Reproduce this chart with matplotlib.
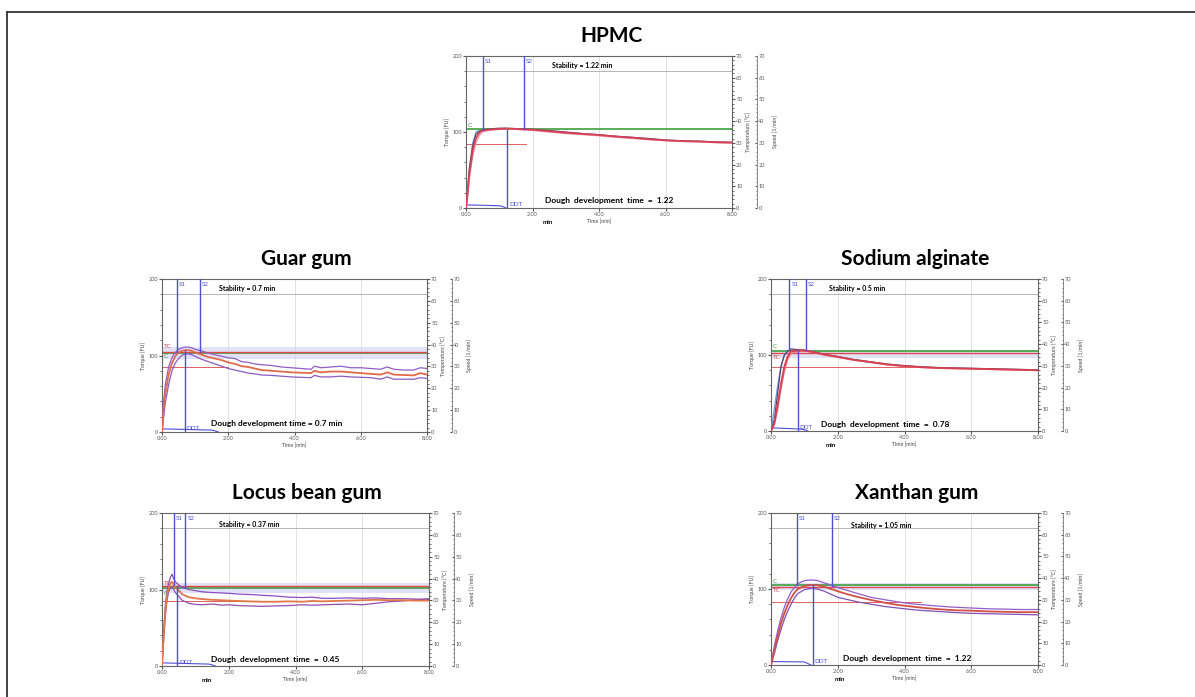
import numpy as np
import matplotlib.pyplot as plt
from matplotlib.lines import Line2D
from matplotlib.ticker import MultipleLocator

W, H = 1195, 697
plt.rcParams['font.family'] = ['Lato', 'DejaVu Sans']

# ---- HPMC ----
hpmc_t = [0, 0.05, 0.1, 0.2, 0.3, 0.4, 0.5, 0.7, 1.0, 1.2, 1.5, 2.0, 2.5, 3.0, 3.5, 4.0, 4.5, 5.0, 5.5, 6.0, 6.5, 7.0, 7.5, 8.0]
hpmc_up = [0, 25, 52, 82, 97, 101, 103, 104, 105, 105, 104.5, 103.5, 102, 100, 98, 96.5, 94.5, 93, 91.5, 89.5, 88.5, 88, 87, 86.5]
hpmc_mid = [0, 20, 45, 75, 92, 99, 102, 103, 104, 104.5, 104, 103, 101, 99, 97.5, 96, 94, 92.5, 90.5, 89, 88, 87.5, 86.5, 86]
hpmc_lo = [0, 15, 38, 68, 86, 95, 100, 102.5, 103.5, 104, 103.5, 102, 100, 98, 96.5, 95, 93, 91.5, 90, 88.5, 87.5, 87, 86, 85.5]
hpmc_rise_t = [0, 0.1, 0.2, 0.3, 0.4]
hpmc_rise = [0, 50, 85, 100, 102]

# ---- Guar gum ----
guar_t = [0, 0.05, 0.1, 0.2, 0.3, 0.4, 0.5, 0.6, 0.7, 0.8, 0.9, 1.0, 1.2, 1.4, 1.6, 1.8, 2.0, 2.2, 2.4, 2.6,
          2.8, 3.0, 3.3, 3.6, 3.9, 4.2, 4.5, 4.6, 4.8, 5.1, 5.4, 5.7, 6.0, 6.3, 6.6, 6.8, 7.0, 7.3, 7.6, 7.8, 8.0]
guar_up = [0, 40, 62, 85, 97, 104, 108, 110, 111, 111, 110, 108, 106, 103, 101, 99, 97, 96, 92, 91,
           89, 88, 87, 85, 84, 83, 82, 86, 84, 85, 86, 84, 84, 83, 82, 85, 82, 81, 81, 84, 83]
guar_mid = [0, 30, 50, 75, 90, 99, 104, 106, 107, 107, 106, 104, 101, 98, 96, 94, 91, 89, 86, 85,
            83, 81, 80, 79, 78, 77.5, 77, 80, 78, 79, 79, 78, 77, 76, 75, 78, 75, 74.5, 74, 77, 75]
guar_lo = [0, 20, 38, 62, 80, 90, 96, 100, 102, 102, 101, 99, 95, 92, 89, 86, 83, 81, 79, 77,
           76, 74.5, 74, 73, 72, 71.5, 71, 74, 72, 72, 73, 72, 71.5, 71, 69, 72, 69, 69, 69, 71, 70]

# ---- Sodium alginate ----
sod_t = [0, 0.1, 0.2, 0.3, 0.4, 0.5, 0.6, 0.8, 1.0, 1.3, 1.6, 2.0, 2.5, 3.0, 3.5, 4.0, 4.5, 5.0, 5.5, 6.0, 6.5, 7.0, 7.5, 8.0]
sod_up = [0, 15, 50, 85, 100, 105, 108, 107, 106.5, 104, 101, 98, 94, 91, 88, 86, 84.5, 83.5, 83, 82.5, 82, 81.5, 81, 80.5]
sod_mid = [0, 10, 35, 62, 85, 98, 105, 106, 106, 103.5, 100.5, 97.5, 93.5, 90.5, 87.5, 85.5, 84, 83, 82.5, 82, 81.5, 81, 80.5, 80]
sod_lo = [0, 8, 28, 55, 78, 94, 102, 104.5, 105, 103, 100, 97, 93, 90, 87, 85, 83.5, 82.5, 82, 81.5, 81, 80.5, 80, 79.5]
sod_rise_t = [0, 0.2, 0.3, 0.4, 0.5]
sod_rise = [0, 60, 85, 100, 105]

# ---- Locus bean gum ----
lbg_t = [0, 0.05, 0.1, 0.15, 0.2, 0.25, 0.3, 0.35, 0.4, 0.5, 0.6, 0.8, 1.0, 1.2, 1.5, 1.8, 2.0, 2.3, 2.6, 3.0,
         3.4, 3.8, 4.2, 4.5, 4.8, 5.2, 5.6, 6.0, 6.4, 6.8, 7.2, 7.6, 8.0]
lbg_up = [0, 45, 80, 98, 108, 116, 120, 114, 110, 106, 103, 100, 98.5, 97, 96, 95.5, 95, 94, 93.5, 92.5,
          91.5, 90, 89.5, 90, 88.5, 88.5, 89, 88.5, 89, 88, 88, 87.5, 87]
lbg_mid = [0, 40, 72, 92, 102, 108, 110, 106, 103, 99, 94, 90, 88.5, 87.5, 86.5, 86, 85.5, 85, 84.5, 84,
           84, 84.5, 84, 85, 84.5, 85, 85.5, 86, 86.5, 86, 86, 85.5, 85.5]
lbg_lo = [0, 35, 65, 86, 97, 102, 104, 100, 96, 91, 86, 82, 80.5, 80, 81, 79.5, 80, 79, 78.5, 78,
          78.5, 79, 80, 79.5, 80, 80.5, 81, 80, 82, 84, 85, 86.5, 88]

# ---- Xanthan gum ----
xan_t = [0, 0.1, 0.2, 0.3, 0.4, 0.5, 0.6, 0.7, 0.8, 1.0, 1.2, 1.4, 1.6, 1.8, 2.0, 2.3, 2.6, 3.0, 3.4, 3.8,
         4.2, 4.6, 5.0, 5.5, 6.0, 6.5, 7.0, 7.5, 8.0]
xan_up = [0, 25, 45, 62, 76, 87, 96, 102, 107, 111, 112, 111, 108, 105, 102, 98, 94, 89, 86, 83,
          80.5, 79, 77.5, 76, 75, 74, 73.5, 73, 73]
xan_mid = [0, 20, 38, 55, 68, 79, 88, 95, 100, 104, 105.5, 105, 103, 100, 97, 93, 89.5, 85.5, 82, 79,
           77, 75, 73.5, 72, 71.5, 70.5, 70, 69.5, 69.5]
xan_lo = [0, 15, 32, 47, 60, 71, 80, 88, 94, 99, 101, 100, 97, 93, 89, 86, 83, 80, 77, 75,
          73, 71.5, 70.5, 69, 68, 67.5, 67, 66.5, 66]

# markers: S1, S2, DDT (min)
hpmc_marks = [0.52, 1.74, 1.24]
guar_marks = [0.44, 1.15, 0.69]
sod_marks = [0.55, 1.05, 0.80]
lbg_marks = [0.35, 0.70, 0.45]
xan_marks = [0.77, 1.82, 1.25]

# speed trace near the bottom
hpmc_spd_t, hpmc_spd = [0, 0.1, 1.0, 1.1, 1.2], [4, 4, 3, 2, 0]
guar_spd_t, guar_spd = [0, 0.1, 1.5, 1.6, 1.7], [4, 4, 2.5, 1.5, 0]
sod_spd_t, sod_spd = [0, 0.1, 0.9, 1.0, 1.1], [4, 4, 2.5, 1.5, 0]
lbg_spd_t, lbg_spd = [0, 0.1, 1.4, 1.5, 1.6], [4, 4, 2.5, 1.5, 0]
xan_spd_t, xan_spd = [0, 0.1, 1.0, 1.1, 1.2], [4.5, 4.5, 4, 2, 0]

fig = plt.figure(figsize=(W / 100, H / 100), dpi=100)

# outer frame (left and top)
fig.add_artist(Line2D([7 / W, 7 / W], [0, 1 - 12 / H], color='#333333', lw=1.3))
fig.add_artist(Line2D([7 / W, 1], [1 - 12 / H, 1 - 12 / H], color='#333333', lw=1.3))

BLUE = '#4f4fd6'
GREEN = '#3da03d'
RED = '#dd4a4a'
TICK = '#555555'


def panel(box, title, title_dx, t, up, mid, lo, cols, marks, c_lvl, c_lab, tc_lvl, tc_lab,
          band, red_ln, spd_t, spd, stab, stab_xy, ddt_txt, ddt_xy, min_x, s_ends):
    l, r, top, bot = box
    ax = fig.add_axes([l / W, 1 - bot / H, (r - l) / W, (bot - top) / H])
    ax.set_xlim(0, 8)
    ax.set_ylim(0, 200)
    for x in (2, 4, 6):
        ax.axvline(x, color='#e2e2e2', lw=0.7, zorder=0)
    ax.axhline(180, color='#aaaaaa', lw=0.6, zorder=1)
    if band:
        ax.axhspan(band[0], band[1], color='#d7d7f5', alpha=0.7, lw=0, zorder=1)
    ax.axhline(c_lvl, color=GREEN, lw=1.2, zorder=2)
    ax.text(0.05, c_lab, 'C', color=GREEN, fontsize=4.5, va='center')
    if tc_lvl is not None:
        ax.axhline(tc_lvl, color=RED, lw=1.0, zorder=2)
        ax.text(0.05, tc_lab, 'TC', color=RED, fontsize=4.5, va='center')
    ax.plot(red_ln[:2], [red_ln[2], red_ln[2]], color='#e06060', lw=0.7, zorder=2)

    ax.plot(t, up, color=cols[0], lw=0.9, zorder=4)
    ax.plot(t, lo, color=cols[2], lw=0.9, zorder=4)
    ax.plot(t, mid, color=cols[1], lw=1.3, zorder=5)
    ax.plot(spd_t, spd, color=BLUE, lw=0.8, zorder=4)

    s1, s2, ddt = marks
    ax.plot([s1, s1], [s_ends[0], 200], color=BLUE, lw=1.0, zorder=6)
    ax.plot([s2, s2], [s_ends[1], 200], color=BLUE, lw=1.0, zorder=6)
    ax.plot([ddt, ddt], [0, s_ends[2]], color=BLUE, lw=1.0, zorder=6)
    ax.text(s1 + 0.06, 193, 'S1', color=BLUE, fontsize=4.5, va='center')
    ax.text(s2 + 0.06, 193, 'S2', color=BLUE, fontsize=4.5, va='center')
    ax.text(ddt + 0.06, 5, 'DDT', color=BLUE, fontsize=4.5, va='center')

    ax.text(stab_xy[0], stab_xy[1], stab, fontsize=5, fontweight='bold', va='center')
    ax.text(ddt_xy[0], ddt_xy[1], ddt_txt, fontsize=6, fontweight='bold', va='center')

    ax.set_xticks([0, 2, 4, 6, 8])
    ax.set_xticklabels(['0.00', '2.00', '4.00', '6.00', '8.00'])
    ax.set_yticks([0, 100, 200])
    ax.yaxis.set_minor_locator(MultipleLocator(20))
    ax.tick_params(labelsize=4, colors=TICK, length=2, pad=1)
    ax.tick_params(which='minor', length=1.2, colors=TICK)
    ax.set_ylabel('Torque [FU]', fontsize=3.8, color='#444444', labelpad=2)
    ax.text(0.5, -0.092, 'Time [min]', transform=ax.transAxes, fontsize=3.8,
            color='#444444', ha='center', va='center')
    if min_x is not None:
        ax.text(min_x, -0.095, 'min', transform=ax.get_xaxis_transform(), fontsize=4.5,
                fontweight='bold', ha='center', va='center')
    for s in ax.spines.values():
        s.set_color('#666666')
        s.set_linewidth(0.8)

    # temperature axis
    tx = ax.twinx()
    tx.set_ylim(0, 70)
    tx.set_yticks(range(0, 71, 10))
    tx.yaxis.set_minor_locator(MultipleLocator(2))
    tx.tick_params(labelsize=4, colors=TICK, length=2, pad=1)
    tx.tick_params(which='minor', length=1.2, colors=TICK)
    tx.set_ylabel('Temperature [°C]', fontsize=3.8, color='#444444')
    tx.yaxis.set_label_coords(1.05, 0.5)
    for s in tx.spines.values():
        s.set_visible(False)

    # speed axis
    sx = ax.twinx()
    sx.set_ylim(0, 70)
    sx.set_yticks(range(0, 71, 10))
    sx.yaxis.set_minor_locator(MultipleLocator(2))
    for k in ('top', 'bottom', 'left'):
        sx.spines[k].set_visible(False)
    sx.spines['right'].set_position(('outward', 18))
    sx.spines['right'].set_color('#777777')
    sx.spines['right'].set_linewidth(0.6)
    sx.tick_params(labelsize=4, colors=TICK, length=1.5, pad=1, direction='in')
    sx.tick_params(which='minor', length=1, direction='in', colors=TICK)
    sx.set_ylabel('Speed [1/min]', fontsize=3.8, color='#444444')
    sx.yaxis.set_label_coords(1.15, 0.5)

    fig.text(((l + r) / 2 + title_dx) / W, 1 - (top - 20) / H, title, fontsize=15,
             fontweight='bold', ha='center', va='center')
    return ax


a = panel((466, 732, 56, 208), 'HPMC', 13, hpmc_t, hpmc_up, hpmc_mid, hpmc_lo,
          ('#6a4a5a', '#d8405a', '#f09aa8'), hpmc_marks, 104, 109, None, None,
          None, (0, 1.8, 84), hpmc_spd_t, hpmc_spd,
          'Stability = 1.22 min', (2.6, 187), 'Dough  development  time  =  1.22', (2.38, 10.5),
          2.47, (102, 104, 103))
a.plot(hpmc_rise_t, hpmc_rise, color='#6fa0e0', lw=0.9, zorder=3)

panel((162, 427, 279, 432), 'Guar gum', 12, guar_t, guar_up, guar_mid, guar_lo,
      ('#8e5fc8', '#e06a4a', '#8a5cc0'), guar_marks, 103.7, 98.5, 105, 111.5,
      (96, 111), (0, 2.0, 85), guar_spd_t, guar_spd,
      'Stability = 0.7 min', (1.73, 187), 'Dough development time = 0.7 min', (1.48, 10.5),
      None, (105, 105, 106))

a = panel((771, 1038, 279, 431), 'Sodium alginate', 11, sod_t, sod_up, sod_mid, sod_lo,
          ('#5a4070', '#d84050', '#e87888'), sod_marks, 105.7, 111, 102, 97,
          (95.6, 107), (0, 4.4, 84), sod_spd_t, sod_spd,
          'Stability = 0.5 min', (1.74, 187), 'Dough  development  time  =  0.78', (1.49, 9.2),
          1.8, (106, 106, 106))
a.plot(sod_rise_t, sod_rise, color='#6fa0e0', lw=0.9, zorder=3)

panel((162, 429, 513, 666), 'Locus bean gum', 11, lbg_t, lbg_up, lbg_mid, lbg_lo,
      ('#8a50c0', '#e07848', '#9050b0'), lbg_marks, 101.5, 95, 104.6, 108,
      (96, 108), (0, 4.5, 85), lbg_spd_t, lbg_spd,
      'Stability = 0.37 min', (1.72, 185), 'Dough  development  time  =  0.45', (1.47, 9),
      1.35, (106, 102, 104))

panel((771, 1038, 513, 665), 'Xanthan gum', 12, xan_t, xan_up, xan_mid, xan_lo,
      ('#9060c8', '#d05048', '#8050b8'), xan_marks, 105, 110.5, 103, 97.8,
      (98.7, 107.5), (0, 4.5, 83), xan_spd_t, xan_spd,
      'Stability = 1.05 min', (2.41, 184), 'Dough  development  time  =  1.22', (2.16, 8),
      2.05, (105, 104, 105))

fig.savefig('out.png', dpi=100)
